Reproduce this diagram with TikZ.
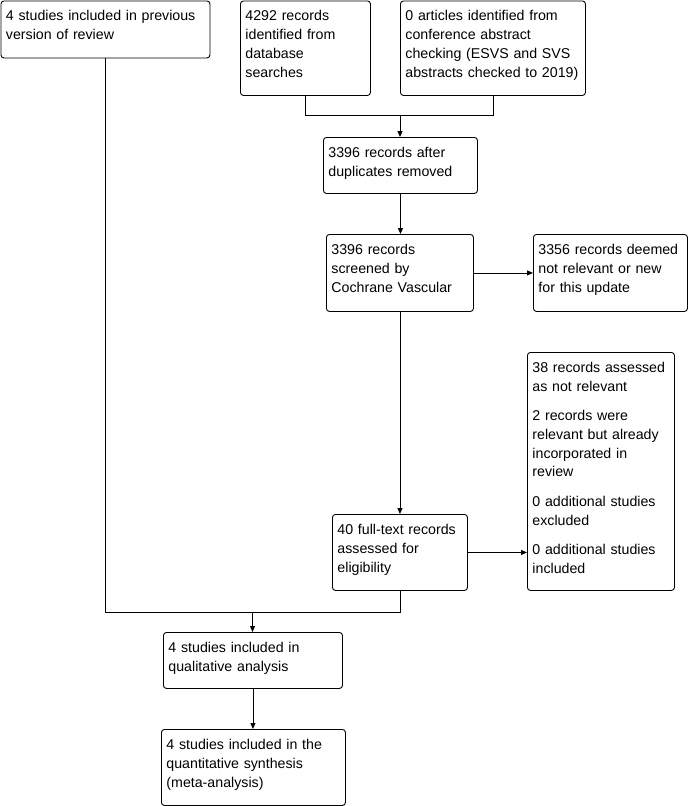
\documentclass[tikz,border=0pt]{standalone}
\usepackage{fontspec}
\setmainfont{Liberation Sans}
\usetikzlibrary{arrows.meta}
\begin{document}
\begin{tikzpicture}[x=1pt,y=-1pt,
  box/.style={draw=black, line width=0.9pt, rounded corners=3pt, anchor=north west,
    inner xsep=5pt, inner ysep=0pt, text height=20pt, align=left,
    font=\fontsize{14.2}{18.8}\selectfont},
  conn/.style={draw=black, line width=0.9pt},
  arr/.style={conn, -{Triangle[length=6pt,width=5pt]}}]
\useasboundingbox (0,0) rectangle (690,806);
\node[box, text width=199pt, text depth=37pt] (A) at (0.5,0.5)
  {4 studies included in previous\\version of review};
\node[box, text width=120pt, text depth=74.5pt] (B) at (240,0.5)
  {4292 records\\identified from\\database\\searches};
\node[box, text width=175pt, text depth=74.5pt] (C) at (400,0.5)
  {0 articles identified from\\conference abstract\\checking (ESVS and SVS\\abstracts checked to 2019)};
\node[box, text width=144pt, text depth=36pt] (D) at (323,137)
  {3396 records after\\duplicates removed};
\node[box, text width=137pt, text depth=57pt] (E) at (326,234)
  {3396 records\\screened by\\Cochrane Vascular};
\node[box, text width=144pt, text depth=57pt] (F) at (533,234)
  {3356 records deemed\\not relevant or new\\for this update};
\node[box, text width=125pt, text depth=56pt] (G) at (332,514)
  {40 full-text records\\assessed for\\eligibility};
\node[box, text width=137pt, text depth=218pt] (H) at (527,352)
  {38 records assessed\\as not relevant\\[10.5pt]2 records were\\relevant but already\\incorporated in\\review\\[10.5pt]0 additional studies\\excluded\\[10.5pt]0 additional studies\\included};
\node[box, text width=169pt, text depth=36pt] (I) at (163,632)
  {4 studies included in\\qualitative analysis};
\node[box, text width=174pt, text depth=56pt] (J) at (161,729)
  {4 studies included in the\\quantitative synthesis\\(meta-analysis)};
\coordinate (m1) at (400,115.5);
\coordinate (m2) at (252.5,612);
\draw[conn] (B.south) |- (m1);
\draw[conn] (C.south) |- (m1);
\draw[arr] (m1) -- (m1 |- D.north);
\draw[arr] (D.south) -- (D.south |- E.north);
\draw[arr] (E.east) -- (F.west);
\draw[arr] (E.south) -- (E.south |- G.north);
\draw[arr] (G.east) -- (G.east -| H.west);
\draw[conn] (A.south) |- (m2);
\draw[conn] (G.south) |- (m2);
\draw[arr] (m2) -- (m2 |- I.north);
\draw[arr] (I.south) -- (I.south |- J.north);
\end{tikzpicture}
\end{document}
